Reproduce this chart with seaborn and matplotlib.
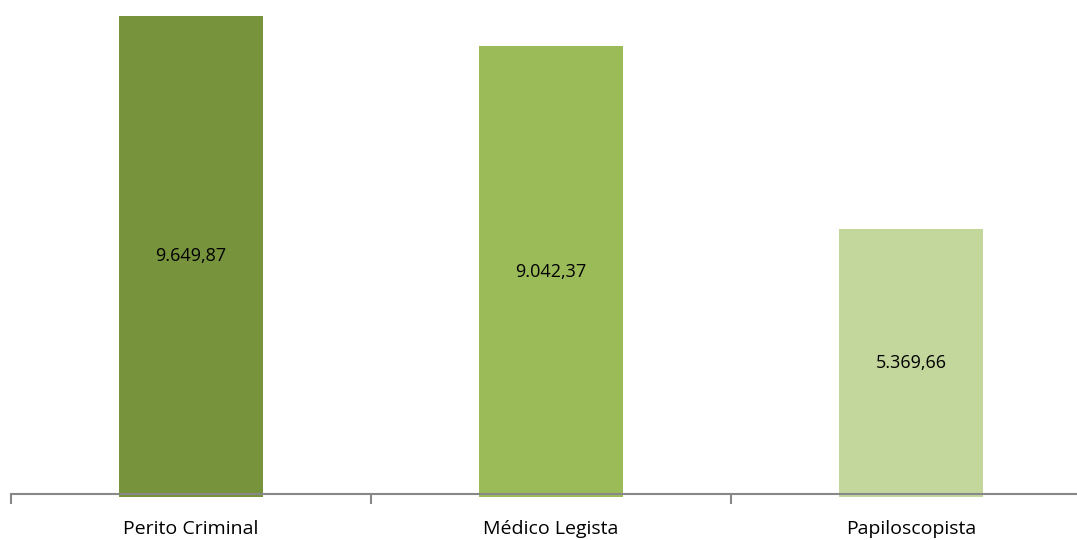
import matplotlib.pyplot as plt
import pandas as pd
import seaborn as sns

# Remuneração por cargo
cargos = ["Perito Criminal", "Médico Legista", "Papiloscopista"]
valores = [9649.87, 9042.37, 5369.66]
cores = ["#77933C", "#9BBB59", "#C3D69B"]


def fmt_br(v: float) -> str:
    s = f"{v:,.2f}"
    return s.replace(",", "X").replace(".", ",").replace("X", ".")


df = pd.DataFrame({"cargo": cargos, "valor": valores})

sns.set_style("white")
plt.rcParams["font.family"] = ["Open Sans", "DejaVu Sans"]

fig = plt.figure(figsize=(10.77, 5.4), dpi=100)
# axes spans pixel x 11..1091 (runs past the right edge), y 10..497 (value 0 at bottom)
ax = fig.add_axes([11 / 1077, 43 / 540, 1080 / 1077, 487 / 540])

sns.barplot(data=df, x="cargo", y="valor", hue="cargo", palette=cores,
            width=0.4, legend=False, ax=ax, saturation=1, linewidth=0)

for i, v in enumerate(valores):
    ax.text(i, v / 2, fmt_br(v), ha="center", va="center", fontsize=13, color="black")

ax.set_xlim(-0.5, 2.5)
ax.set_ylim(0, 9769)
ax.set_xlabel("")
ax.set_ylabel("")
ax.set_yticks([])

for s in ["top", "right", "left"]:
    ax.spines[s].set_visible(False)
ax.spines["bottom"].set_position(("data", 60))
ax.spines["bottom"].set_color("#888888")
ax.spines["bottom"].set_linewidth(1.5)

ax.set_xticks([0, 1, 2])
ax.set_xticklabels(cargos, fontsize=14, color="black")
ax.tick_params(axis="x", which="major", length=0, pad=19)
ax.set_xticks([-0.5, 0.5, 1.5, 2.5], minor=True)
ax.tick_params(axis="x", which="minor", bottom=True, length=7, width=1.5,
               color="#888888", direction="out")

fig.savefig("out.png", dpi=100)
plt.close()
